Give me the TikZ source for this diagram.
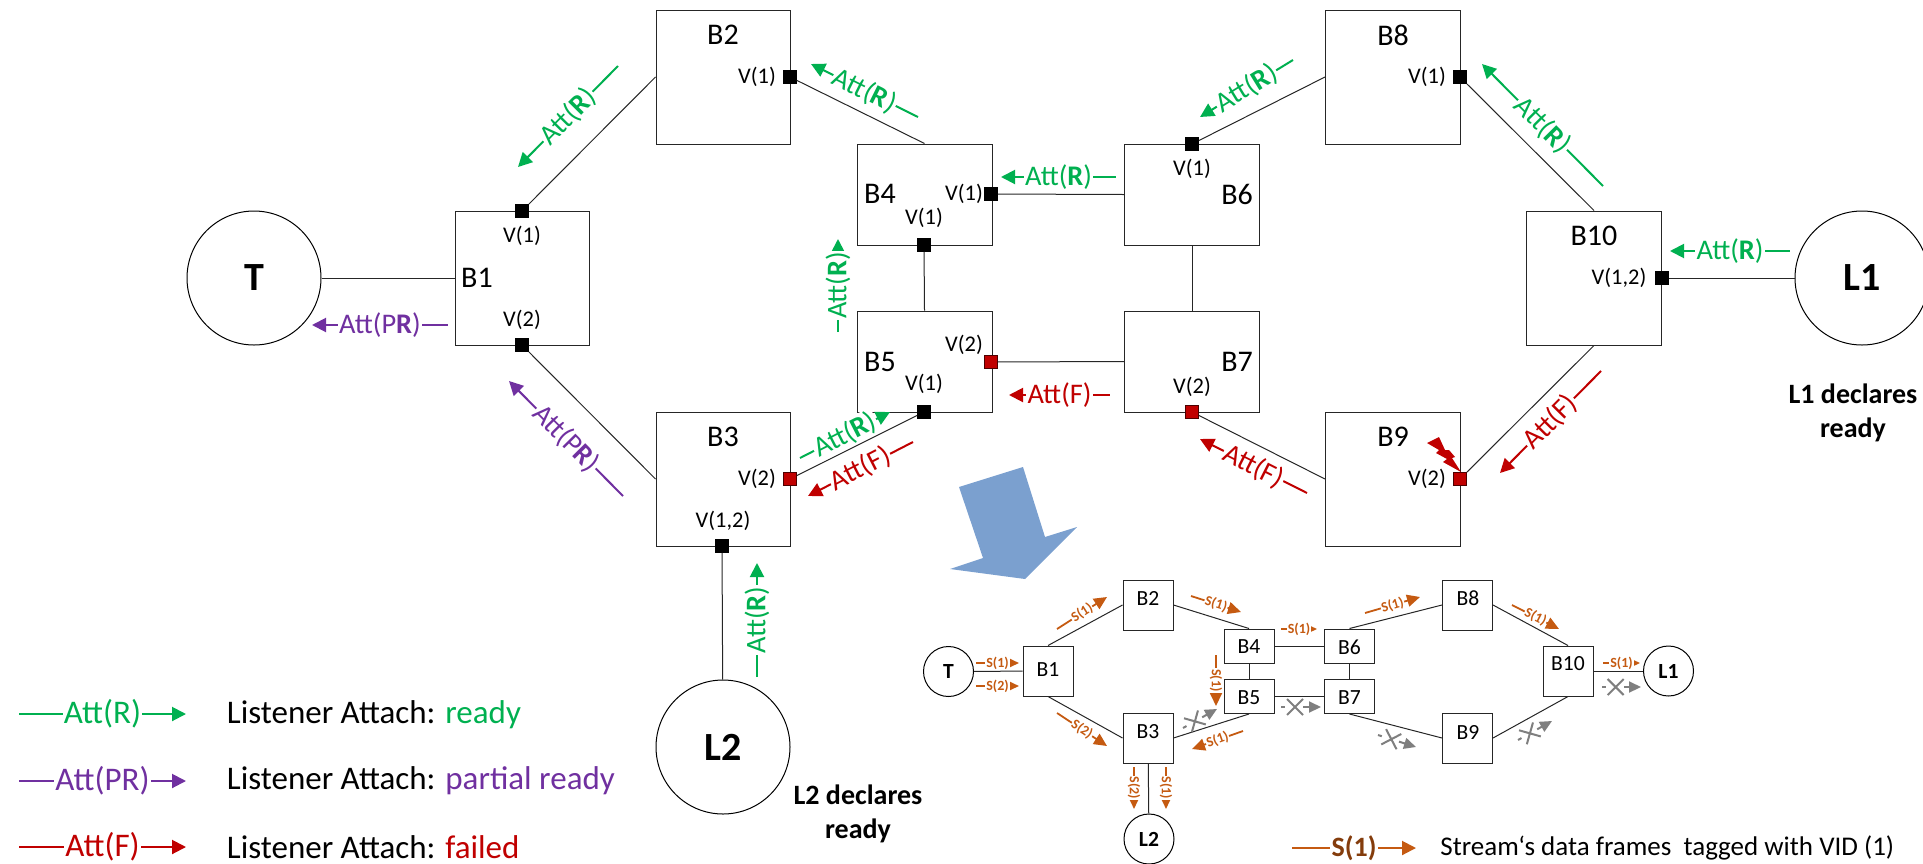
\documentclass[tikz,border=0pt]{standalone}
\usepackage{fontspec}
\setmainfont{Carlito}
\usetikzlibrary{arrows.meta,shapes.misc}
\definecolor{attgreen}{HTML}{00B050}
\definecolor{attpurple}{HTML}{7030A0}
\definecolor{attred}{HTML}{C00000}
\definecolor{framebrown}{HTML}{C55A11}
\definecolor{darkbrown}{HTML}{843C0C}
\definecolor{dropgray}{HTML}{7F7F7F}
\definecolor{bigarrow}{HTML}{7BA0CF}
\begin{document}
\begin{tikzpicture}[x=0.5pt,y=-0.5pt,>={Triangle[length=7pt,width=7pt]},
  box/.style={draw=black!85,line width=0.5pt,inner sep=0pt},
  bigbox/.style={box,minimum width=67pt,minimum height=67pt},
  tallbox/.style={box,minimum width=67.5pt,minimum height=50.5pt},
  smallbox/.style={box,minimum width=25pt,minimum height=25pt},
  flatbox/.style={box,minimum width=25pt,minimum height=17pt},
  host/.style={circle,draw=black,line width=0.5pt,minimum size=67pt,inner sep=0pt,font=\fontsize{20}{22}\selectfont\bfseries},
  smallhost/.style={host,minimum size=25pt,font=\fontsize{10.8}{12}\selectfont\bfseries},
  port/.style={rectangle,draw=black,fill=black,minimum width=6.5pt,minimum height=6.5pt,inner sep=0pt},
  badport/.style={port,fill=attred,draw=black!60!attred},
  link/.style={black!85,line width=0.5pt},
  bname/.style={font=\fontsize{15}{17}\selectfont,inner sep=0pt},
  sname/.style={font=\fontsize{10.8}{12}\selectfont,inner sep=0pt},
  vid/.style={font=\fontsize{11.2}{13}\selectfont,inner sep=0pt},
  att/.style={line width=1pt},
  attlabel/.style={midway,sloped,allow upside down,fill=white,inner sep=0.6pt,font=\fontsize{14.2}{16}\selectfont},
  fr/.style={framebrown,line width=0.9pt,>={Triangle[length=4.5pt,width=4pt]}},
  bigfr/.style={fr,>={Triangle[length=6.5pt,width=6pt]}},
  frlabel/.style={midway,sloped,allow upside down,fill=white,inner sep=0.4pt,text=framebrown,font=\fontsize{7}{8}\selectfont\bfseries},
  drop/.style={dropgray,line width=1pt,dash pattern=on 2pt off 9pt on 30pt,>={Triangle[length=6pt,width=5.5pt]}},
  xmark/.style={cross out,solid,draw=dropgray,line width=1pt,minimum size=7pt,inner sep=0pt,sloped},
  legend/.style={anchor=west,inner sep=0pt,font=\fontsize{16.5}{19}\selectfont},
  note/.style={align=center,inner sep=0pt,font=\fontsize{14}{17}\selectfont\bfseries}]
\useasboundingbox (0,0) rectangle (1923,863);
\coordinate (a1) at (518,167); \coordinate (a2) at (618,66);
\coordinate (c1) at (811,64); \coordinate (c2) at (918,117);
\coordinate (d1) at (312,325); \coordinate (d2) at (448,325);
\coordinate (e1) at (509,381); \coordinate (e2) at (623,496);
\coordinate (g1) at (838,332); \coordinate (g2) at (838,239);
\coordinate (h1) at (808,496); \coordinate (h2) at (913,442);
\coordinate (i1) at (1200,117); \coordinate (i2) at (1293,60);
\coordinate (j1) at (1482,64); \coordinate (j2) at (1603,186);
\coordinate (k1) at (1670,251); \coordinate (k2) at (1790,251);
\coordinate (l1) at (1009,395); \coordinate (l2) at (1110,395);
\coordinate (m1) at (1200,439); \coordinate (m2) at (1307,493);
\coordinate (n1) at (1500,473); \coordinate (n2) at (1601,371);
\coordinate (o1) at (757,677); \coordinate (o2) at (757,563);
\draw[<-,att,attgreen] (a1) -- (a2) node[attlabel] (la) {Att(\textbf{R})};
\draw[<-,att,attgreen] (c1) -- (c2) node[attlabel] (lc) {Att(\textbf{R})};
\draw[<-,att,attpurple] (d1) -- (d2) node[attlabel] (ld) {Att(P\textbf{R})};
\draw[<-,att,attpurple] (e1) -- (e2) node[attlabel] (le) {Att(P\textbf{R})};
\draw[->,att,attgreen] (g1) -- (g2) node[attlabel] (lg) {Att(\textbf{R})};
\draw[<-,att,attred] (h1) -- (h2) node[attlabel] (lh) {Att(F)};
\draw[<-,att,attgreen] (i1) -- (i2) node[attlabel] (li) {Att(\textbf{R})};
\draw[<-,att,attgreen] (j1) -- (j2) node[attlabel] (lj) {Att(\textbf{R})};
\draw[<-,att,attgreen] (k1) -- (k2) node[attlabel] (lk) {Att(\textbf{R})};
\draw[<-,att,attred] (l1) -- (l2) node[attlabel] (ll) {Att(F)};
\draw[<-,att,attred] (m1) -- (m2) node[attlabel] (lm) {Att(F)};
\draw[<-,att,attred] (n1) -- (n2) node[attlabel] (ln) {Att(F)};
\draw[->,att,attgreen] (o1) -- (o2) node[attlabel] (lo) {Att(\textbf{R})};
\node[host] (t) at (254,278) {T};
\node[host] (l1host) at (1862,278) {L1};
\node[host] (l2host) at (723,747) {L2};
\node[bigbox] (b1) at (522,278) {};
\node[bigbox] (b2) at (723,77) {};
\node[bigbox] (b3) at (723,479) {};
\node[tallbox] (b4) at (924.5,194.5) {};
\node[tallbox] (b5) at (924.5,361.5) {};
\node[tallbox] (b6) at (1192,194.5) {};
\node[tallbox] (b7) at (1192,361.5) {};
\node[bigbox,minimum width=67.5pt] (b8) at (1393,77) {};
\node[bigbox,minimum width=67.5pt] (b9) at (1393,479) {};
\node[bigbox,minimum width=67.5pt] (b10) at (1594,278) {};
\node[bname] (b1t) at (477,278) {B1};
\node[bname] (b2t) at (723,35) {B2};
\node[bname] (b3t) at (723,437) {B3};
\node[bname] (b4t) at (880,194) {B4};
\node[bname] (b5t) at (880,362) {B5};
\node[bname] (b6t) at (1237,194) {B6};
\node[bname] (b7t) at (1237,362) {B7};
\node[bname] (b8t) at (1393,35) {B8};
\node[bname] (b9t) at (1393,437) {B9};
\node[bname] (b10t) at (1594,236) {B10};
\node[port] (p1a) at (522,211) {};
\node[port] (p1b) at (522,345) {};
\node[port] (p2) at (790,77) {};
\node[badport] (p3a) at (790,479) {};
\node[port] (p3b) at (722,546) {};
\node[port] (p4a) at (991,194) {};
\node[port] (p4b) at (924,245) {};
\node[port] (p5a) at (924,412) {};
\node[badport] (p5b) at (991,362) {};
\node[port] (p6) at (1192,144) {};
\node[badport] (p7) at (1192,412) {};
\node[port] (p8) at (1460,77) {};
\node[badport] (p9) at (1460,479) {};
\node[port] (p10) at (1662,278) {};
\node[vid] (v1a) at (522,236) {V(1)};
\node[vid] (v1b) at (522,320) {V(2)};
\node[vid] (v2) at (757,77) {V(1)};
\node[vid] (v3a) at (757,479) {V(2)};
\node[vid] (v3b) at (723,521) {V(1,2)};
\node[vid] (v4a) at (964,194) {V(1)};
\node[vid] (v4b) at (924,218) {V(1)};
\node[vid] (v5a) at (924,384) {V(1)};
\node[vid] (v5b) at (964,345) {V(2)};
\node[vid] (v6) at (1192,169) {V(1)};
\node[vid] (v7) at (1192,387) {V(2)};
\node[vid] (v8) at (1427,77) {V(1)};
\node[vid] (v9) at (1427,479) {V(2)};
\node[vid] (v10) at (1619,278) {V(1,2)};
\draw[link] (t) -- (b1);
\draw[link] (p1a) -- (b2.west);
\draw[link] (p1b) -- (b3.west);
\draw[link] (p2) -- (b4.north);
\draw[link] (p3a) -- (p5a);
\draw[link] (p3b) -- (l2host);
\draw[link] (p4b) -- (b5.north);
\draw[link] (p4a) -- (b6.west);
\draw[link] (p5b) -- (b7.west);
\draw[link] (b6.south) -- (b7.north);
\draw[link] (p6) -- (b8.west);
\draw[link] (p7) -- (b9.west);
\draw[link] (p8) -- (b10.north);
\draw[link] (p9) -- (b10.south);
\draw[link] (p10) -- (l1host);
\coordinate (f1) at (800,458); \coordinate (f2) at (890,412);
\coordinate (b1l) at (1001,177); \coordinate (b2l) at (1116,177);
\draw[->,att,attgreen] (f1) -- (f2) node[attlabel] (lf) {Att(\textbf{R})};
\draw[<-,att,attgreen] (b1l) -- (b2l) node[attlabel] (lb) {Att(\textbf{R})};
\fill[attred] (1427,443) -- (1439,437) -- (1445,450) -- (1449,450) -- (1455,457) -- (1452,458) -- (1461,472) -- (1443,462) -- (1447,459) -- (1436,453) -- (1439,450) -- cycle;
\fill[bigarrow] (959,487) -- (1023,467) -- (1045,537) -- (1077,527) -- (1025,579) -- (950,569) -- (983,558) -- cycle;
\node[note] (n1note) at (1853,413) {L1 declares\\ready};
\node[note] (n2note) at (858,814) {L2 declares\\ready};
\node[smallhost] (st) at (948.5,671.5) {T};
\node[smallhost] (sl1) at (1668.5,671) {L1};
\node[smallhost] (sl2) at (1149,839) {L2};
\node[smallbox] (s1) at (1048,671) {};
\node[smallbox] (s2) at (1148,605) {};
\node[smallbox] (s3) at (1148,738) {};
\node[flatbox] (s4) at (1249,646) {};
\node[flatbox] (s5) at (1249,696.5) {};
\node[flatbox] (s6) at (1349.5,646) {};
\node[flatbox] (s7) at (1349.5,696.5) {};
\node[smallbox] (s8) at (1467.5,605) {};
\node[smallbox] (s9) at (1467.5,738) {};
\node[smallbox] (s10) at (1568,671) {};
\node[sname] (s1t) at (1048,670) {B1};
\node[sname] (s2t) at (1148,598) {B2};
\node[sname] (s3t) at (1148,732) {B3};
\node[sname] (s4t) at (1249,647) {B4};
\node[sname] (s5t) at (1249,698) {B5};
\node[sname] (s6t) at (1349.5,647) {B6};
\node[sname] (s7t) at (1349.5,698) {B7};
\node[sname] (s8t) at (1468,598) {B8};
\node[sname] (s9t) at (1468,732) {B9};
\node[sname] (s10t) at (1568,664) {B10};
\coordinate (q1) at (976,663); \coordinate (q2) at (1019,663);
\coordinate (q3) at (976,686); \coordinate (q4) at (1019,686);
\coordinate (q5) at (1057,629); \coordinate (q6) at (1107,597);
\coordinate (q7) at (1057,713); \coordinate (q8) at (1107,746);
\coordinate (q9) at (1191,596); \coordinate (q10) at (1241,612);
\coordinate (q11) at (1281,629); \coordinate (q12) at (1317,629);
\coordinate (q13) at (1216,655); \coordinate (q14) at (1216,706);
\coordinate (q15) at (1192,749); \coordinate (q16) at (1243,731);
\coordinate (q17) at (1134,767); \coordinate (q18) at (1134,809);
\coordinate (q19) at (1166,767); \coordinate (q20) at (1166,809);
\coordinate (q21) at (1365,613); \coordinate (q22) at (1420,597);
\coordinate (q23) at (1512,605); \coordinate (q24) at (1559,629);
\coordinate (q25) at (1603,663); \coordinate (q26) at (1640,663);
\draw[->,fr] (q1) -- (q2) node[frlabel] (f1t) {S(1)};
\draw[->,fr] (q3) -- (q4) node[frlabel] (f2t) {S(2)};
\draw[->,bigfr] (q5) -- (q6) node[frlabel] (f3t) {S(1)};
\draw[->,bigfr] (q7) -- (q8) node[frlabel] (f4t) {S(2)};
\draw[->,bigfr] (q9) -- (q10) node[frlabel] (f5t) {S(1)};
\draw[->,fr] (q11) -- (q12) node[frlabel] (f6t) {S(1)};
\draw[->,bigfr] (q13) -- (q14) node[frlabel] (f7t) {S(1)};
\draw[<-,bigfr] (q15) -- (q16) node[frlabel] (f8t) {S(1)};
\draw[->,fr] (q17) -- (q18) node[frlabel] (f9t) {S(2)};
\draw[->,fr] (q19) -- (q20) node[frlabel] (f10t) {S(1)};
\draw[->,bigfr] (q21) -- (q22) node[frlabel] (f11t) {S(1)};
\draw[->,bigfr] (q23) -- (q24) node[frlabel] (f12t) {S(1)};
\draw[->,fr] (q25) -- (q26) node[frlabel] (f13t) {S(1)};
\draw[link] (st) -- (s1);
\draw[link] (s1.north) -- (s2.west);
\draw[link] (s1.south) -- (s3.west);
\draw[link] (s2.east) -- (s4.north);
\draw[link] (s3.east) -- (s5.south);
\draw[link] (s4) -- (s6);
\draw[link] (s5) -- (s7);
\draw[link] (s4) -- (s5);
\draw[link] (s6) -- (s7);
\draw[link] (s6.north) -- (s8.west);
\draw[link] (s8.east) -- (s10.north);
\draw[link] (s7.south) -- (s9.west);
\draw[link] (s9.east) -- (s10.south);
\draw[link] (s10) -- (sl1);
\draw[link] (s3) -- (sl2);
\coordinate (x1) at (1183,728); \coordinate (x2) at (1217,709);
\coordinate (x3) at (1281,707); \coordinate (x4) at (1321,707);
\coordinate (x5) at (1378,735); \coordinate (x6) at (1416,747);
\coordinate (x7) at (1518,740); \coordinate (x8) at (1552,721);
\coordinate (x9) at (1602,687); \coordinate (x10) at (1641,687);
\draw[->,drop] (x1) -- (x2) node[xmark,pos=0.35] (x1t) {};
\draw[->,drop] (x3) -- (x4) node[xmark,pos=0.35] (x2t) {};
\draw[->,drop] (x5) -- (x6) node[xmark,pos=0.35] (x3t) {};
\draw[->,drop] (x7) -- (x8) node[xmark,pos=0.35] (x4t) {};
\draw[->,drop] (x9) -- (x10) node[xmark,pos=0.35] (x5t) {};
\coordinate (r1) at (19,714); \coordinate (r2) at (186,714);
\coordinate (r3) at (19,781); \coordinate (r4) at (186,781);
\coordinate (r5) at (19,847); \coordinate (r6) at (186,847);
\coordinate (r7) at (1292,848); \coordinate (r8) at (1416,848);
\draw[->,att,attgreen] (r1) -- (r2) node[attlabel,font=\fontsize{16.5}{19}\selectfont] (r1t) {Att(R)};
\draw[->,att,attpurple] (r3) -- (r4) node[attlabel,font=\fontsize{16.5}{19}\selectfont] (r2t) {Att(PR)};
\draw[->,att,attred] (r5) -- (r6) node[attlabel,font=\fontsize{16.5}{19}\selectfont] (r3t) {Att(F)};
\draw[->,att,framebrown] (r7) -- (r8) node[attlabel,text=darkbrown,font=\fontsize{14}{16}\selectfont\bfseries] (r4t) {S(1)};
\node[legend] (k1t) at (226.5,715) {Listener Attach: \textcolor{attgreen}{ready}};
\node[legend] (k2t) at (226.5,781) {Listener Attach: \textcolor{attpurple}{partial ready}};
\node[legend] (k3t) at (226.5,847) {Listener Attach: \textcolor{attred}{failed}};
\node[legend,font=\fontsize{13.5}{16}\selectfont] (k4t) at (1440,848) {Stream‘s data frames\ \ tagged with VID (1)};
\end{tikzpicture}
\end{document}
